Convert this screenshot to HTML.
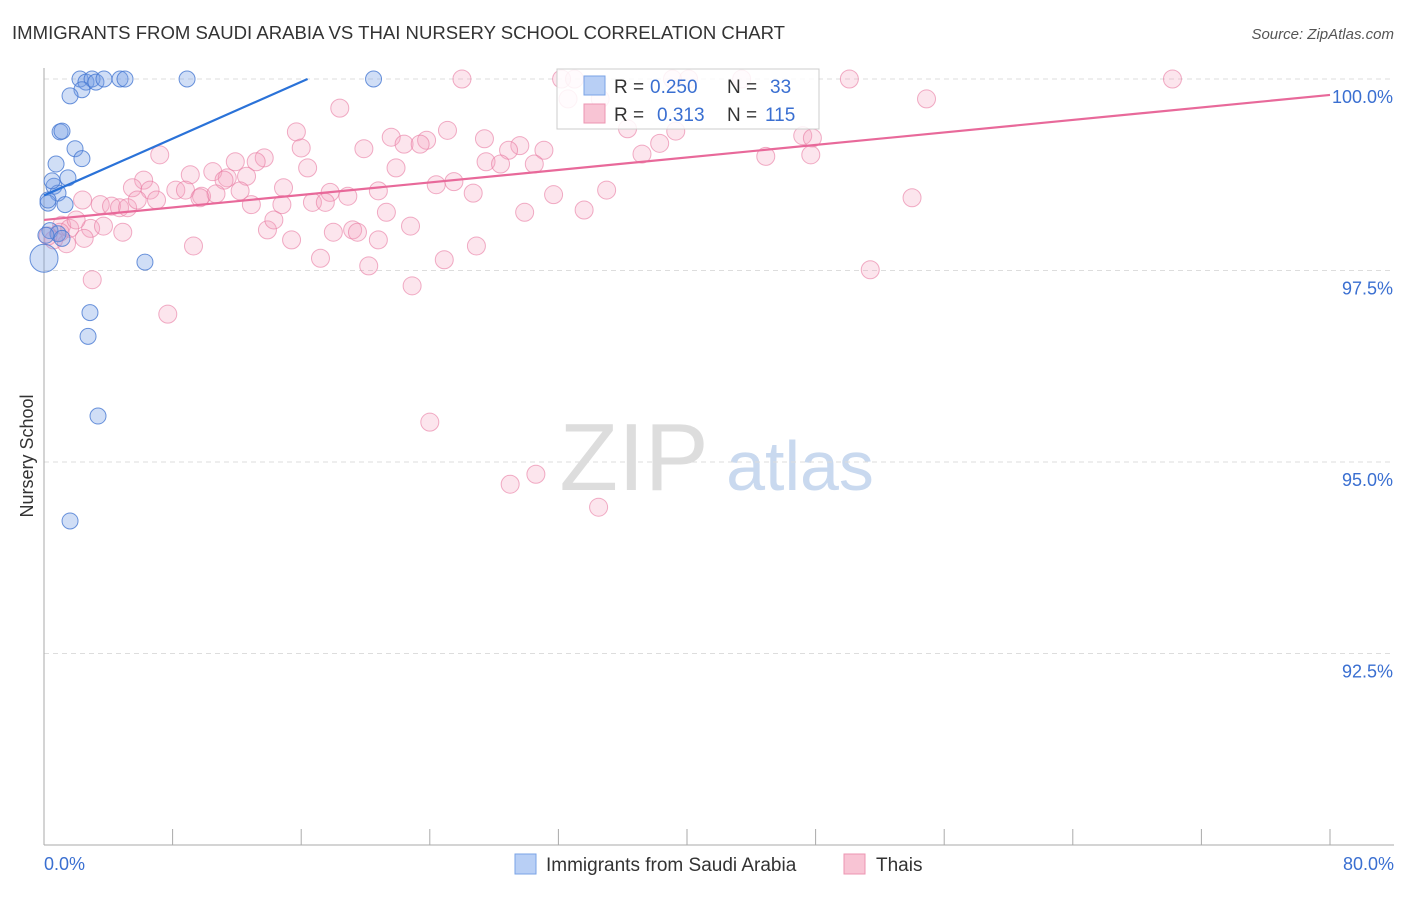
<!DOCTYPE html>
<html><head><meta charset="utf-8"><style>
body{margin:0;background:#fff;font-family:"Liberation Sans",sans-serif}
svg text{font-family:"Liberation Sans",sans-serif}
</style></head><body>
<svg id="chart" width="1406" height="892" xmlns="http://www.w3.org/2000/svg">
<text x="12" y="39" font-size="18" fill="#333" textLength="773" lengthAdjust="spacingAndGlyphs">IMMIGRANTS FROM SAUDI ARABIA VS THAI NURSERY SCHOOL CORRELATION CHART</text>
<text x="1394" y="39" font-size="15" fill="#555" text-anchor="end" font-style="italic">Source: ZipAtlas.com</text>
<text x="634" y="490" font-size="96" fill="#ddd" font-family="Liberation Serif" text-anchor="middle">ZIP</text>
<text x="800" y="490" font-size="70" fill="#c9d9ef" text-anchor="middle">atlas</text>
<text transform="translate(33,456) rotate(-90)" font-size="18" fill="#333" text-anchor="middle">Nursery School</text>
<g id="grid"></g><g id="axes"></g><g id="pts"></g><g id="lines"></g>
<g>
<rect x="557" y="69" width="262" height="60" fill="#fff" fill-opacity="0.85" stroke="#ccc"/>
<rect x="584" y="76" width="21" height="19" fill="#b8cff5" stroke="#7aa3e6"/>
<text x="614" y="93" font-size="19" fill="#333">R =</text>
<text x="650" y="93" font-size="19" fill="#3a6fd1">0.250</text>
<text x="727" y="93" font-size="19" fill="#333">N =</text>
<text x="770" y="93" font-size="19" fill="#3a6fd1">33</text>
<rect x="584" y="104" width="21" height="19" fill="#f8c4d4" stroke="#ec95b2"/>
<text x="614" y="121" font-size="19" fill="#333">R =</text>
<text x="657" y="121" font-size="19" fill="#3a6fd1">0.313</text>
<text x="727" y="121" font-size="19" fill="#333">N =</text>
<text x="765" y="121" font-size="19" fill="#3a6fd1">115</text>
</g>
<g>
<rect x="515" y="854" width="21" height="20" fill="#b8cff5" stroke="#7aa3e6"/>
<text x="546" y="871" font-size="19" fill="#333">Immigrants from Saudi Arabia</text>
<rect x="844" y="854" width="21" height="20" fill="#f8c4d4" stroke="#ec95b2"/>
<text x="876" y="871" font-size="19" fill="#333">Thais</text>
</g>
</svg>
<script>
const blueX=[2.24,2.61,2.99,3.23,3.73,4.73,5.04,8.9,20.5,2.36,1.62,1.0,1.12,1.93,2.36,0.75,1.49,0.62,0.87,0.25,1.31,0.37,0.87,1.12,0,6.28,2.86,2.74,3.36,1.62,0.5,0.25,0.12];
const blueY=[100,99.96,100,99.96,100,100,100,100,100,99.86,99.78,99.31,99.32,99.09,98.96,98.89,98.71,98.6,98.51,98.38,98.36,98.02,97.98,97.92,97.66,97.61,96.95,96.64,95.6,94.23,98.67,98.42,97.96];
const pinkX=[26.0,32.2,33.0,39.1,40.1,43.4,50.1,70.2,32.6,34.6,54.9,18.4,15.7,21.6,25.1,27.4,36.3,39.3,47.2,47.8,23.8,22.4,23.4,16.0,19.9,29.6,28.9,31.1,38.3,37.2,44.9,47.7,7.2,11.9,13.7,13.2,27.5,28.4,30.5,16.4,21.9,10.5,9.1,11.4,12.6,6.2,11.2,24.4,25.5,5.5,6.6,8.2,8.8,14.9,17.8,18.9,20.8,9.8,10.7,9.7,12.2,26.7,31.7,35.0,54.0,2.4,3.5,4.2,4.7,5.2,5.8,7.0,16.7,17.5,12.9,14.8,21.3,29.9,33.6,1.1,1.6,2.9,3.7,4.9,13.9,14.3,18.0,19.2,19.5,20.8,22.8,0.6,1.4,15.4,9.3,26.9,17.2,20.2,24.9,51.4,3.0,22.9,7.7,24.0,29.0,30.6,34.5,2.5,1.0,0.25,2.0];
const pinkY=[100,100,100,100,100,100,100,100,99.74,99.74,99.74,99.62,99.31,99.24,99.33,99.22,99.35,99.32,99.26,99.23,99.2,99.15,99.15,99.1,99.09,99.13,99.07,99.07,99.16,99.02,98.99,99.01,99.01,98.92,98.97,98.92,98.92,98.89,98.89,98.84,98.84,98.79,98.75,98.71,98.73,98.68,98.68,98.62,98.66,98.58,98.55,98.55,98.55,98.58,98.52,98.47,98.54,98.47,98.5,98.45,98.54,98.51,98.49,98.55,98.45,98.42,98.36,98.34,98.32,98.32,98.42,98.42,98.39,98.39,98.36,98.36,98.26,98.26,98.29,98.09,98.05,98.05,98.08,98.0,98.03,98.16,98.0,98.03,98.0,97.9,98.08,97.9,97.85,97.9,97.82,97.82,97.66,97.56,97.64,97.51,97.38,97.3,96.93,95.52,94.71,94.84,94.41,97.92,98.0,97.95,98.16];
const yTicks=[100.0,97.5,95.0,92.5];
const xTickLabels=["0.0%","80.0%"];
const blueTrend=[98.48,0.0927];
const pinkTrend=[98.16,0.0204];
const NS="http://www.w3.org/2000/svg";
const X=v=>44+v*16.075, Y=v=>79+(100-v)*76.6;
function mk(p,t,a){const e=document.createElementNS(NS,t);for(const k in a)e.setAttribute(k,a[k]);document.getElementById(p).appendChild(e);return e;}
yTicks.forEach(t=>{
 const l=mk('grid','line',{x1:44,x2:1394,y1:Y(t),y2:Y(t),stroke:'#ddd','stroke-dasharray':'5,4'});
 
 
 const tx=mk('axes','text',{x:1393,y:Y(t)+24,'font-size':18,fill:'#3a6fd1','text-anchor':'end'});
 tx.textContent=t.toFixed(1)+'%';
 
 
});
let ax=mk('axes','line',{x1:44,x2:44,y1:68,y2:845,stroke:'#aaa'});

ax=mk('axes','line',{x1:44,x2:1394,y1:845,y2:845,stroke:'#aaa'});

for(let i=0;i<=10;i++){const t=mk('axes','line',{x1:X(i*8),x2:X(i*8),y1:829,y2:845,stroke:'#aaa'});
 }
[[0,'start',44],[80,'end',1394]].forEach((d,i)=>{const t=mk('axes','text',{x:d[2],y:870,'font-size':18,fill:'#3a6fd1','text-anchor':d[1]});
 t.textContent=xTickLabels[i];});
pinkX.forEach((x,i)=>{const c=mk('pts','circle',{cx:X(x),cy:Y(pinkY[i]),r:9,fill:'rgba(243,160,190,0.28)',stroke:'rgba(232,120,160,0.6)','stroke-width':1});
 });
blueX.forEach((x,i)=>{const c=mk('pts','circle',{cx:X(x),cy:Y(blueY[i]),r:(x===0?14:8),fill:'rgba(120,160,230,0.35)',stroke:'rgba(70,120,210,0.8)','stroke-width':1});
 });
const bx2=(100-blueTrend[0])/blueTrend[1];
let tl=mk('lines','line',{x1:X(0),y1:Y(blueTrend[0]),x2:X(bx2),y2:Y(100),stroke:'#2a72d8','stroke-width':2.2});

tl=mk('lines','line',{x1:X(0),y1:Y(pinkTrend[0]),x2:X(80),y2:Y(pinkTrend[0]+80*pinkTrend[1]),stroke:'#e8699a','stroke-width':2.2});

</script>
</body></html>
